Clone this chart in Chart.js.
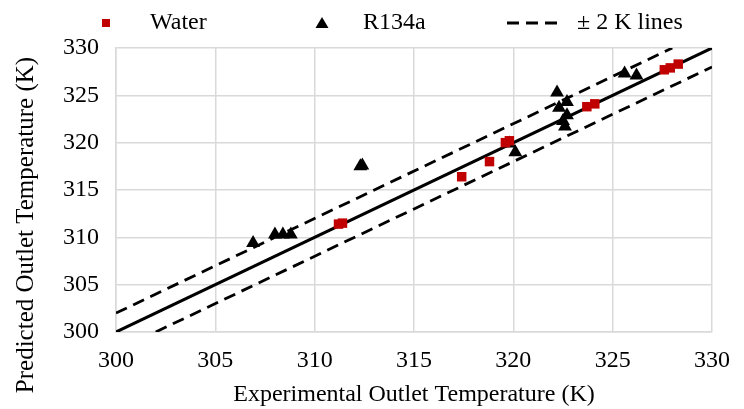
<!DOCTYPE html>
<html>
<head>
<meta charset="utf-8">
<script src="https://cdn.jsdelivr.net/npm/chart.js@4/dist/chart.umd.min.js"></script>
<style>
  html, body { margin: 0; padding: 0; background: #fff; }
  #wrap { width: 744px; height: 409px; }
</style>
</head>
<body>
<div id="wrap"><canvas id="chart" width="744" height="409"></canvas></div>
<script>
// --- datos ---
const waterX = [311.2, 311.4, 317.4, 318.8, 319.6, 319.8, 323.7, 324.1, 327.6, 327.9, 328.3];
const waterY = [311.4, 311.5, 316.4, 318.0, 320.0, 320.2, 323.8, 324.1, 327.7, 327.9, 328.3];

const r134aX = [306.9, 308.0, 308.4, 308.8, 312.3, 312.4, 319.8, 320.1, 322.2, 322.7, 322.3, 322.7, 322.5, 322.6, 325.6, 326.2];
const r134aY = [309.4, 310.3, 310.3, 310.3, 317.5, 317.6, 319.9, 319.0, 325.3, 324.3, 323.7, 322.9, 322.3, 321.7, 327.3, 327.1];

// linea 1:1 y lineas de +-2 K
const idealX = [300, 330];
const idealY = [300, 330];
const upperX = [300, 328];
const upperY = [302, 330];
const lowerX = [302, 330];
const lowerY = [300, 328];

const axisMin = 300;
const axisMax = 330;
const axisStep = 5;

const legendLabels = ['Water', 'R134a', '\u00B1 2 K lines'];
const xTitle = 'Experimental Outlet Temperature (K)';
const yTitle = 'Predicted Outlet Temperature (K)';

const FONT = '"Liberation Serif", "Times New Roman", serif';
const RED = '#C00000';
const GRID = '#d9d9d9';

function toPoints(xs, ys) {
    return xs.map((x, i) => ({ x: x, y: ys[i] }));
}

// leyenda y titulo del eje Y dibujados a mano (como en Excel)
const excelText = {
    id: 'excelText',
    afterDraw(chart) {
        const ctx = chart.ctx;
        const y = 23;
        ctx.save();
        // cuadrado rojo
        ctx.fillStyle = RED;
        ctx.fillRect(102, y - 4, 8, 8);
        // triangulo
        ctx.fillStyle = '#000';
        ctx.beginPath();
        ctx.moveTo(322, y - 6);
        ctx.lineTo(328.5, y + 5);
        ctx.lineTo(315.5, y + 5);
        ctx.closePath();
        ctx.fill();
        // linea discontinua
        ctx.strokeStyle = '#000';
        ctx.lineWidth = 3;
        ctx.setLineDash([12, 7]);
        ctx.beginPath();
        ctx.moveTo(507, y);
        ctx.lineTo(563, y);
        ctx.stroke();
        ctx.setLineDash([]);
        // textos de la leyenda
        ctx.font = '24px ' + FONT;
        ctx.textBaseline = 'middle';
        ctx.textAlign = 'left';
        ctx.fillText(legendLabels[0], 150, y);
        ctx.fillText(legendLabels[1], 363, y);
        ctx.fillText(legendLabels[2], 577, y);

        // titulo eje Y (algo desplazado hacia abajo respecto al area)
        ctx.translate(33, 225);
        ctx.rotate(-Math.PI / 2);
        ctx.font = '25px ' + FONT;
        ctx.textAlign = 'center';
        ctx.textBaseline = 'alphabetic';
        ctx.fillText(yTitle, 0, 0);
        ctx.restore();
    }
};

const ctx = document.getElementById('chart');
new Chart(ctx, {
    type: 'scatter',
    data: {
        datasets: [
            {
                label: legendLabels[0],
                data: toPoints(waterX, waterY),
                pointStyle: 'rect',
                pointRadius: 6.7,
                pointBackgroundColor: RED,
                pointBorderWidth: 0,
                order: 0
            },
            {
                label: legendLabels[1],
                data: toPoints(r134aX, r134aY),
                pointStyle: 'triangle',
                pointRadius: 8,
                pointBackgroundColor: '#000',
                pointBorderWidth: 0,
                order: 0
            },
            {
                type: 'line',
                label: 'ideal',
                data: toPoints(idealX, idealY),
                borderColor: '#000',
                borderWidth: 3,
                pointRadius: 0,
                order: 1
            },
            {
                type: 'line',
                label: legendLabels[2],
                data: toPoints(upperX, upperY),
                borderColor: '#000',
                borderWidth: 2.8,
                borderDash: [12, 7],
                pointRadius: 0,
                order: 1
            },
            {
                type: 'line',
                label: 'lower',
                data: toPoints(lowerX, lowerY),
                borderColor: '#000',
                borderWidth: 2.8,
                borderDash: [12, 7],
                pointRadius: 0,
                order: 1
            }
        ]
    },
    options: {
        responsive: false,
        animation: false,
        layout: { padding: { top: 48, right: 19, bottom: 0, left: 0 } },
        plugins: {
            legend: { display: false },
            tooltip: { enabled: false }
        },
        scales: {
            x: {
                type: 'linear',
                min: axisMin,
                max: axisMax,
                ticks: {
                    stepSize: axisStep,
                    padding: 14,
                    color: '#000',
                    font: { family: FONT, size: 24 }
                },
                grid: { color: GRID, lineWidth: 1.5, drawTicks: false },
                border: { color: GRID, width: 1.5 },
                title: {
                    display: true,
                    text: xTitle,
                    color: '#000',
                    font: { family: FONT, size: 24 },
                    padding: { top: 0, bottom: 0 }
                },
                afterFit(scale) { scale.height = 77; }
            },
            y: {
                type: 'linear',
                min: axisMin,
                max: axisMax,
                ticks: {
                    stepSize: axisStep,
                    padding: 17,
                    color: '#000',
                    font: { family: FONT, size: 24 }
                },
                grid: { color: GRID, lineWidth: 1.5, drawTicks: false },
                border: { color: GRID, width: 1.5 },
                afterFit(scale) { scale.width = 116; }
            }
        }
    },
    plugins: [excelText]
});
</script>
</body>
</html>
